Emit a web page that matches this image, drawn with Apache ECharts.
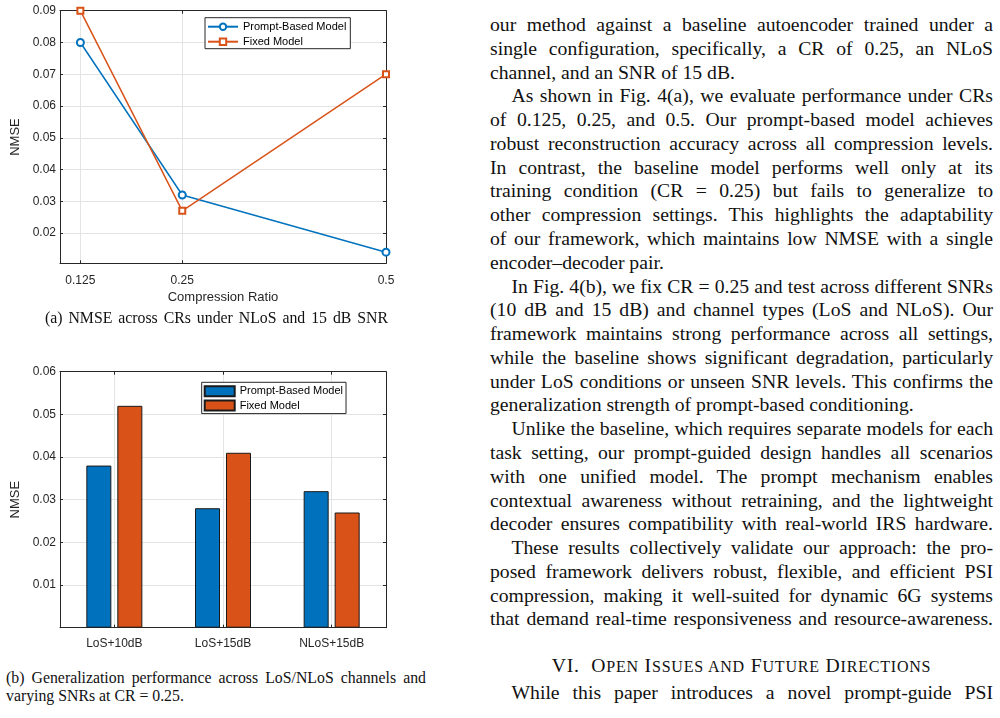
<!DOCTYPE html>
<html>
<head>
<meta charset="utf-8">
<script src="https://cdn.jsdelivr.net/npm/echarts@6/dist/echarts.min.js"></script>
<style>
  html, body { margin: 0; padding: 0; background: #fff; width: 1000px; height: 718px; overflow: hidden; }
  #chartA { position: absolute; left: 0; top: 0; width: 440px; height: 340px; }
  #chartB { position: absolute; left: 0; top: 360px; width: 440px; height: 300px; }
  .serif { font-family: "Liberation Serif", "Times New Roman", Times, serif; color: #111; }
  .cap { position: absolute; font-size: 15.8px; line-height: 17.4px; white-space: nowrap; }
  .just { text-align: justify; text-align-last: justify; }
  #body { position: absolute; left: 490px; top: 12.96px; width: 503px; font-size: 19.7px; line-height: 23.78px; }
  #body div { white-space: nowrap; width: 503px; }
  #body div.j { text-align: justify; text-align-last: justify; }
  #body div.ind { padding-left: 21.5px; width: 481.5px; }
  #heading { position: absolute; left: 490px; width: 503px; top: 653.8px; font-size: 19.7px; line-height: 23.78px; text-align: center; white-space: nowrap; letter-spacing: 0.8px; }
  #heading .sc { font-size: 16px; }
  #last { position: absolute; left: 511.5px; width: 481.5px; top: 680.5px; font-size: 19.7px; line-height: 23.78px; white-space: nowrap; text-align: justify; text-align-last: justify; }
</style>
</head>
<body>
<div id="chartA"></div>
<div id="chartB"></div>

<div class="serif cap just" style="left:45px; top:308.8px; width:343px;">(a) NMSE across CRs under NLoS and 15 dB SNR</div>
<div class="serif cap just" style="left:6px; top:669.1px; width:420px;">(b) Generalization performance across LoS/NLoS channels and</div>
<div class="serif cap" style="left:6px; top:686.5px;">varying SNRs at CR = 0.25.</div>

<div id="body" class="serif">
  <div class="j">our method against a baseline autoencoder trained under a</div>
  <div class="j">single configuration, specifically, a CR of 0.25, an NLoS</div>
  <div>channel, and an SNR of 15 dB.</div>
  <div class="j ind">As shown in Fig. 4(a), we evaluate performance under CRs</div>
  <div class="j">of 0.125, 0.25, and 0.5. Our prompt-based model achieves</div>
  <div class="j">robust reconstruction accuracy across all compression levels.</div>
  <div class="j">In contrast, the baseline model performs well only at its</div>
  <div class="j">training condition (CR = 0.25) but fails to generalize to</div>
  <div class="j">other compression settings. This highlights the adaptability</div>
  <div class="j">of our framework, which maintains low NMSE with a single</div>
  <div>encoder–decoder pair.</div>
  <div class="j ind">In Fig. 4(b), we fix CR = 0.25 and test across different SNRs</div>
  <div class="j">(10 dB and 15 dB) and channel types (LoS and NLoS). Our</div>
  <div class="j">framework maintains strong performance across all settings,</div>
  <div class="j">while the baseline shows significant degradation, particularly</div>
  <div class="j">under LoS conditions or unseen SNR levels. This confirms the</div>
  <div>generalization strength of prompt-based conditioning.</div>
  <div class="j ind">Unlike the baseline, which requires separate models for each</div>
  <div class="j">task setting, our prompt-guided design handles all scenarios</div>
  <div class="j">with one unified model. The prompt mechanism enables</div>
  <div class="j">contextual awareness without retraining, and the lightweight</div>
  <div class="j">decoder ensures compatibility with real-world IRS hardware.</div>
  <div class="j ind">These results collectively validate our approach: the pro-</div>
  <div class="j">posed framework delivers robust, flexible, and efficient PSI</div>
  <div class="j">compression, making it well-suited for dynamic 6G systems</div>
  <div class="j">that demand real-time responsiveness and resource-awareness.</div>
</div>
<div id="heading" class="serif">VI.&nbsp;&nbsp;O<span class="sc">PEN</span> I<span class="sc">SSUES AND</span> F<span class="sc">UTURE</span> D<span class="sc">IRECTIONS</span></div>
<div id="last" class="serif">While this paper introduces a novel prompt-guide PSI</div>

<script>
// ---------------- data ----------------
const seriesNames = ['Prompt-Based Model', 'Fixed Model'];

// (a) NMSE vs compression ratio
const compressionRatios = [0.125, 0.25, 0.5];
const promptNMSEbyCR = [0.080, 0.032, 0.014];
const fixedNMSEbyCR = [0.090, 0.027, 0.070];

// (b) NMSE vs channel / SNR scenario
const scenarios = ['LoS+10dB', 'LoS+15dB', 'NLoS+15dB'];
const promptNMSEbyScenario = [0.038, 0.028, 0.032];
const fixedNMSEbyScenario = [0.052, 0.041, 0.027];

// ---------------- styles ----------------
const BLUE = '#0072BD';
const ORANGE = '#D95319';
const AXIS = '#262626';
const GRID = '#e4e4e4';
const FONT = '"Liberation Sans", Arial, Helvetica, sans-serif';

function boxAxisCommon() {
  return {
    axisLine: { show: true, onZero: false, lineStyle: { color: AXIS, width: 1 } },
    axisTick: { show: true, inside: true, length: 3, lineStyle: { color: AXIS, width: 1 } }
  };
}

// ---------------- chart (a) ----------------
const chartA = echarts.init(document.getElementById('chartA'), null, { renderer: 'canvas' });
const yMinA = 0.0105, yMaxA = 0.09;
chartA.setOption({
  animation: false,
  textStyle: { fontFamily: FONT },
  grid: { left: 60, top: 10.7, width: 326, height: 252.6, show: false, containLabel: false, outerBoundsMode: 'none' },
  legend: {
    orient: 'vertical', left: 205, top: 17.7,
    backgroundColor: '#fff', borderColor: AXIS, borderWidth: 1, borderRadius: 0,
    padding: [3.5, 4, 1.5, 2], itemWidth: 30, itemHeight: 8, itemGap: 4,
    textStyle: { fontSize: 11, color: '#000', fontFamily: FONT },
    data: seriesNames
  },
  xAxis: [
    Object.assign(boxAxisCommon(), {
      type: 'value', min: 0.1, max: 0.5, position: 'bottom',
      name: 'Compression Ratio', nameLocation: 'middle', nameGap: 26,
      nameTextStyle: { fontSize: 13, color: AXIS, fontFamily: FONT },
      axisTick: { show: true, inside: true, length: 3, customValues: compressionRatios, lineStyle: { color: AXIS } },
      axisLabel: { customValues: compressionRatios, fontSize: 12, color: AXIS, margin: 11, fontFamily: FONT, formatter: v => String(v) },
      splitLine: { show: true, lineStyle: { color: GRID, width: 1 } }
    }),
    Object.assign(boxAxisCommon(), {
      type: 'value', min: 0.1, max: 0.5, position: 'top',
      axisTick: { show: true, inside: true, length: 3, customValues: compressionRatios, lineStyle: { color: AXIS } },
      axisLabel: { show: false, customValues: compressionRatios },
      splitLine: { show: false }
    })
  ],
  yAxis: [
    Object.assign(boxAxisCommon(), {
      type: 'value', min: yMinA, max: yMaxA, splitNumber: 8, position: 'left',
      name: 'NMSE', nameLocation: 'middle', nameGap: 31,
      nameTextStyle: { fontSize: 13, color: AXIS, fontFamily: FONT },
      axisLabel: { fontSize: 12, color: AXIS, margin: 4, showMinLabel: false, fontFamily: FONT, formatter: v => v.toFixed(2) },
      splitLine: { show: true, lineStyle: { color: GRID, width: 1 } }
    }),
    Object.assign(boxAxisCommon(), {
      type: 'value', min: yMinA, max: yMaxA, splitNumber: 8, position: 'right',
      axisLabel: { show: false }, splitLine: { show: false }
    })
  ],
  series: [
    {
      name: seriesNames[0], type: 'line', xAxisIndex: 0, yAxisIndex: 0,
      data: compressionRatios.map((x, i) => [x, promptNMSEbyCR[i]]),
      symbol: 'emptyCircle', symbolSize: 7,
      lineStyle: { color: BLUE, width: 1.5 },
      itemStyle: { color: BLUE, borderColor: BLUE, borderWidth: 1.3 },
      z: 3
    },
    {
      name: seriesNames[1], type: 'line', xAxisIndex: 0, yAxisIndex: 0,
      data: compressionRatios.map((x, i) => [x, fixedNMSEbyCR[i]]),
      symbol: 'emptyRect', symbolSize: 6,
      lineStyle: { color: ORANGE, width: 1.5 },
      itemStyle: { color: ORANGE, borderColor: ORANGE, borderWidth: 1.3 },
      z: 3
    }
  ]
});

// ---------------- chart (b) ----------------
const chartB = echarts.init(document.getElementById('chartB'), null, { renderer: 'canvas' });
chartB.setOption({
  animation: false,
  textStyle: { fontFamily: FONT },
  grid: { left: 60, top: 11.7, width: 326, height: 256, show: false, containLabel: false, outerBoundsMode: 'none' },
  legend: {
    orient: 'vertical', left: 201.7, top: 22.3,
    backgroundColor: '#fff', borderColor: AXIS, borderWidth: 1, borderRadius: 0,
    padding: [3, 3, 2, 2], itemWidth: 30, itemHeight: 10, itemGap: 2.3,
    icon: 'rect',
    textStyle: { fontSize: 11, color: '#000', fontFamily: FONT },
    data: seriesNames
  },
  xAxis: [
    Object.assign(boxAxisCommon(), {
      type: 'category', data: scenarios, position: 'bottom',
      axisTick: { show: true, inside: true, length: 3, alignWithLabel: true, lineStyle: { color: AXIS } },
      axisLabel: { fontSize: 12, color: AXIS, margin: 10, fontFamily: FONT },
      splitLine: { show: true, alignWithLabel: true, lineStyle: { color: GRID, width: 1 } }
    }),
    Object.assign(boxAxisCommon(), {
      type: 'category', data: scenarios, position: 'top',
      axisTick: { show: true, inside: true, length: 3, alignWithLabel: true, lineStyle: { color: AXIS } },
      axisLabel: { show: false }, splitLine: { show: false }
    })
  ],
  yAxis: [
    Object.assign(boxAxisCommon(), {
      type: 'value', min: 0, max: 0.06, interval: 0.01, position: 'left',
      name: 'NMSE', nameLocation: 'middle', nameGap: 31,
      nameTextStyle: { fontSize: 13, color: AXIS, fontFamily: FONT },
      axisLabel: { fontSize: 12, color: AXIS, margin: 4, showMinLabel: false, fontFamily: FONT, formatter: v => v.toFixed(2) },
      splitLine: { show: true, lineStyle: { color: GRID, width: 1 } }
    }),
    Object.assign(boxAxisCommon(), {
      type: 'value', min: 0, max: 0.06, interval: 0.01, position: 'right',
      axisLabel: { show: false }, splitLine: { show: false }
    })
  ],
  series: [
    {
      name: seriesNames[0], type: 'bar', xAxisIndex: 0, yAxisIndex: 0,
      data: promptNMSEbyScenario, barWidth: 25, barGap: '24%',
      itemStyle: { color: BLUE, borderColor: '#1a1a1a', borderWidth: 1 }
    },
    {
      name: seriesNames[1], type: 'bar', xAxisIndex: 0, yAxisIndex: 0,
      data: fixedNMSEbyScenario, barWidth: 25, barGap: '24%',
      itemStyle: { color: ORANGE, borderColor: '#1a1a1a', borderWidth: 1 }
    }
  ]
});
</script>
</body>
</html>
